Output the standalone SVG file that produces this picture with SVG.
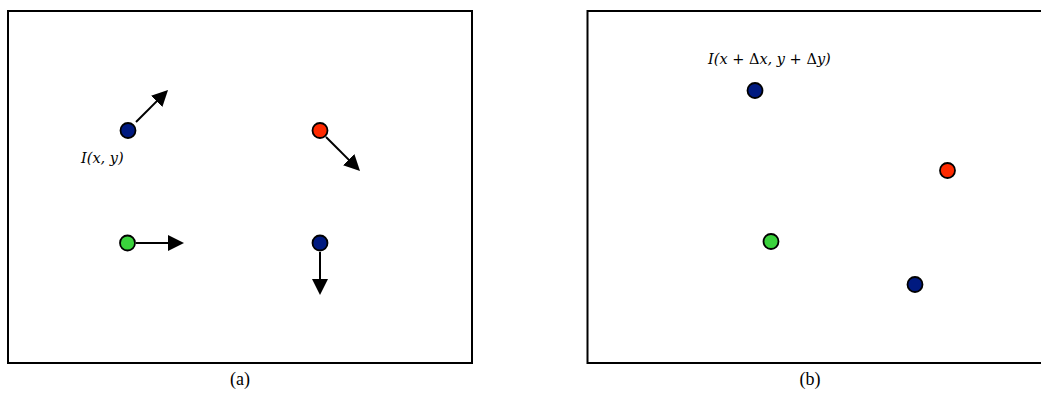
<svg xmlns="http://www.w3.org/2000/svg" width="1041" height="402" viewBox="0 0 1041 402">
<defs>
<marker id="ah" viewBox="0 0 16 16" refX="13" refY="8" markerWidth="16" markerHeight="16" markerUnits="userSpaceOnUse" orient="auto">
<path d="M0,0 L16,8 L0,16 Z" fill="#000"/>
</marker>
</defs>
<style>
.frame{fill:#fff;stroke:#000;stroke-width:2}
.dot{stroke:#000;stroke-width:1.8}
.blue{fill:#001a80}
.red{fill:#ff2a00}
.green{fill:#3ad23c}
.conn line{stroke:#000;stroke-width:2;marker-end:url(#ah)}
.math{font-family:"DejaVu Serif","Liberation Serif",serif;font-style:italic;font-size:14.5px;fill:#000}
.cap{font-family:"Liberation Serif",serif;font-size:18px;fill:#000;text-anchor:middle}
</style>
<rect width="1041" height="402" fill="#fff"/>
<g id="panel-a">
<rect class="frame" x="8" y="11" width="464" height="352"/>
</g>
<g id="panel-b">
<rect class="frame" x="587.5" y="11" width="470" height="352"/>
</g>
<g class="conn" id="connectors">
<line x1="136" y1="122" x2="165.9" y2="92.1"/>
<line x1="326" y1="137" x2="357.9" y2="168.9"/>
<line x1="136" y1="243" x2="181" y2="243"/>
<line x1="320" y1="252" x2="320" y2="292"/>
</g>
<g id="a-blue1"><circle class="dot blue" cx="128" cy="130.5" r="7.5"/></g>
<g id="a-red"><circle class="dot red" cx="320" cy="130.5" r="7.5"/></g>
<g id="a-green"><circle class="dot green" cx="127.5" cy="243" r="7.5"/></g>
<g id="a-blue2"><circle class="dot blue" cx="320" cy="243" r="7.5"/></g>
<g id="label-a"><text class="math" x="81" y="163">I(x, y)</text></g>
<g id="b-blue1"><circle class="dot blue" cx="755" cy="90.5" r="7.5"/></g>
<g id="b-red"><circle class="dot red" cx="947.5" cy="170.5" r="7.5"/></g>
<g id="b-green"><circle class="dot green" cx="771" cy="241.5" r="7.5"/></g>
<g id="b-blue2"><circle class="dot blue" cx="915" cy="284.5" r="7.5"/></g>
<g id="label-b"><text class="math" x="708" y="64">I(x + <tspan font-style="normal">Δ</tspan>x, y + <tspan font-style="normal">Δ</tspan>y)</text></g>
<text class="cap" x="240" y="385">(a)</text>
<text class="cap" x="810" y="385">(b)</text>
</svg>
